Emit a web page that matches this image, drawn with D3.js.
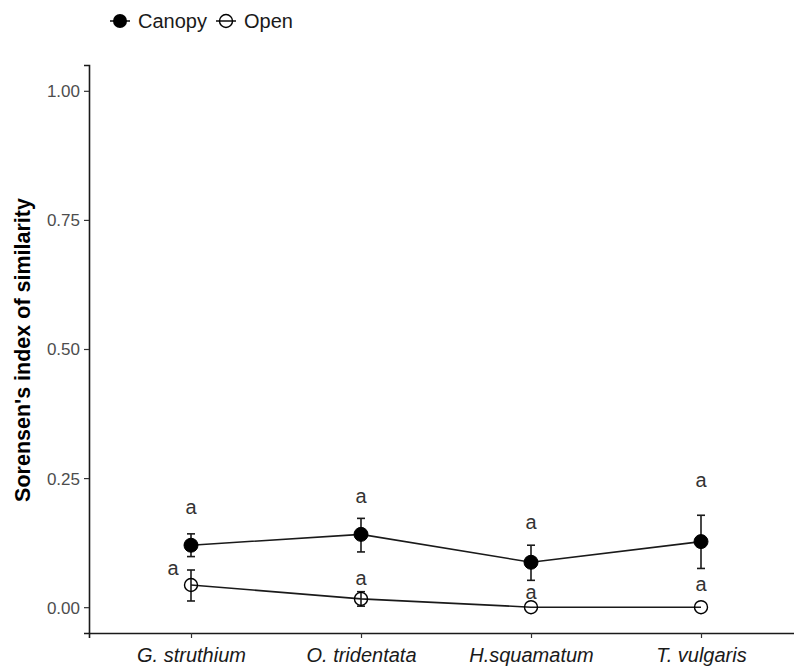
<!DOCTYPE html>
<html>
<head>
<meta charset="utf-8">
<script src="https://cdn.jsdelivr.net/npm/d3@7/dist/d3.min.js"></script>
<style>
  html, body { margin: 0; padding: 0; background: #fff; }
  svg { display: block; font-family: "Liberation Sans", Arial, sans-serif; }
</style>
</head>
<body>
<svg id="chart" width="794" height="668"></svg>
<script>
// Species on the x axis
const species = ["G. struthium", "O. tridentata", "H.squamatum", "T. vulgaris"];

// Mean Sorensen similarity and error bar limits, canopy microsites
const canopyMean  = [0.120, 0.141, 0.087, 0.127];
const canopyLow   = [0.098, 0.107, 0.052, 0.075];
const canopyHigh  = [0.142, 0.172, 0.120, 0.178];

// Mean Sorensen similarity and error bar limits, open microsites
const openMean = [0.043, 0.016, 0.000, 0.000];
const openLow  = [0.012, 0.002, 0.000, 0.000];
const openHigh = [0.072, 0.030, 0.000, 0.000];

// Significance letters and the heights at which they are written
const canopyLetters = ["a", "a", "a", "a"];
const canopyLetterY = [0.194, 0.215, 0.165, 0.246];
const openLetters   = ["a", "a", "a", "a"];
const openLetterY   = [0.076, 0.056, 0.029, 0.045];

const yTicks = [0, 0.25, 0.5, 0.75, 1.0];

const svg = d3.select("#chart");
const ink = "#1a1a1a";

const x = d3.scalePoint().domain(species).range([89, 803]).padding(0.6);
const y = d3.scaleLinear().domain([-0.05, 1.05]).range([633, 65]);

// Axes
const yAxis = d3.axisLeft(y).tickValues(yTicks).tickFormat(d3.format(".2f")).tickSize(5).tickPadding(4);
const gy = svg.append("g").attr("transform", "translate(89,0)").call(yAxis);
gy.select(".domain").attr("stroke", ink).attr("stroke-width", 1.6);
gy.selectAll(".tick line").attr("stroke", "#333").attr("stroke-width", 1.2);
gy.selectAll(".tick text").attr("fill", "#4d4d4d").style("font-size", "17px").attr("dy", "0.35em");

const xAxis = d3.axisBottom(x).tickSize(5).tickPadding(6);
const gx = svg.append("g").attr("transform", "translate(0,633)").call(xAxis);
gx.select(".domain").attr("stroke", ink).attr("stroke-width", 1.6);
gx.selectAll(".tick line").attr("stroke", "#333").attr("stroke-width", 1.2);
gx.selectAll(".tick text").attr("fill", "#1a1a1a").style("font-size", "20px").style("font-style", "italic").attr("dy", "0.9em");

// Y axis title
svg.append("text")
  .attr("transform", "translate(30,350) rotate(-90)")
  .attr("text-anchor", "middle")
  .style("font-size", "21.5px")
  .style("font-weight", "bold")
  .attr("fill", "#000")
  .text("Sorensen's index of similarity");

// One series: connecting line, error bars with caps, then the points
function series(mean, low, high, filled) {
  const g = svg.append("g");
  const line = d3.line().x((d, i) => x(species[i])).y(d => y(d));
  g.append("path").datum(mean).attr("d", line)
    .attr("fill", "none").attr("stroke", ink).attr("stroke-width", 1.6);
  const bars = g.selectAll("g.eb")
    .data(species.map((s, i) => ({ s, lo: low[i], hi: high[i] })).filter(d => d.hi > d.lo))
    .enter().append("g").attr("class", "eb");
  bars.append("line").attr("x1", d => x(d.s)).attr("x2", d => x(d.s))
    .attr("y1", d => y(d.lo)).attr("y2", d => y(d.hi)).attr("stroke", ink).attr("stroke-width", 1.6);
  [d => d.lo, d => d.hi].forEach(f => {
    bars.append("line").attr("x1", d => x(d.s) - 4).attr("x2", d => x(d.s) + 4)
      .attr("y1", d => y(f(d))).attr("y2", d => y(f(d))).attr("stroke", ink).attr("stroke-width", 1.6);
  });
  g.selectAll("circle").data(mean).enter().append("circle")
    .attr("cx", (d, i) => x(species[i])).attr("cy", d => y(d))
    .attr("r", filled ? 7 : 6.5)
    .attr("fill", filled ? "#000" : "none")
    .attr("stroke", "#000").attr("stroke-width", filled ? 1 : 1.4);
}
series(openMean, openLow, openHigh, false);
series(canopyMean, canopyLow, canopyHigh, true);

// Significance letters
function letters(txt, ys, dx) {
  svg.append("g").selectAll("text").data(txt).enter().append("text")
    .attr("x", (d, i) => x(species[i]) + dx[i])
    .attr("y", (d, i) => y(ys[i]))
    .attr("dy", "0.35em")
    .attr("text-anchor", "middle")
    .style("font-size", "20px")
    .attr("fill", "#333")
    .text(d => d);
}
letters(canopyLetters, canopyLetterY, [0, 0, 0, 0]);
letters(openLetters, openLetterY, [-18, 0, 0, 0]);

// Legend
const leg = svg.append("g").attr("transform", "translate(0,21)");
leg.append("line").attr("x1", 110).attr("x2", 130).attr("stroke", ink).attr("stroke-width", 1.6);
leg.append("circle").attr("cx", 120).attr("r", 7).attr("fill", "#000");
leg.append("text").attr("x", 138).attr("dy", "0.36em").style("font-size", "20px").attr("fill", "#1a1a1a").text("Canopy");
leg.append("line").attr("x1", 216).attr("x2", 236).attr("stroke", ink).attr("stroke-width", 1.6);
leg.append("circle").attr("cx", 226).attr("r", 6.5).attr("fill", "none").attr("stroke", "#000").attr("stroke-width", 1.4);
leg.append("text").attr("x", 244).attr("dy", "0.36em").style("font-size", "20px").attr("fill", "#1a1a1a").text("Open");
</script>
</body>
</html>
